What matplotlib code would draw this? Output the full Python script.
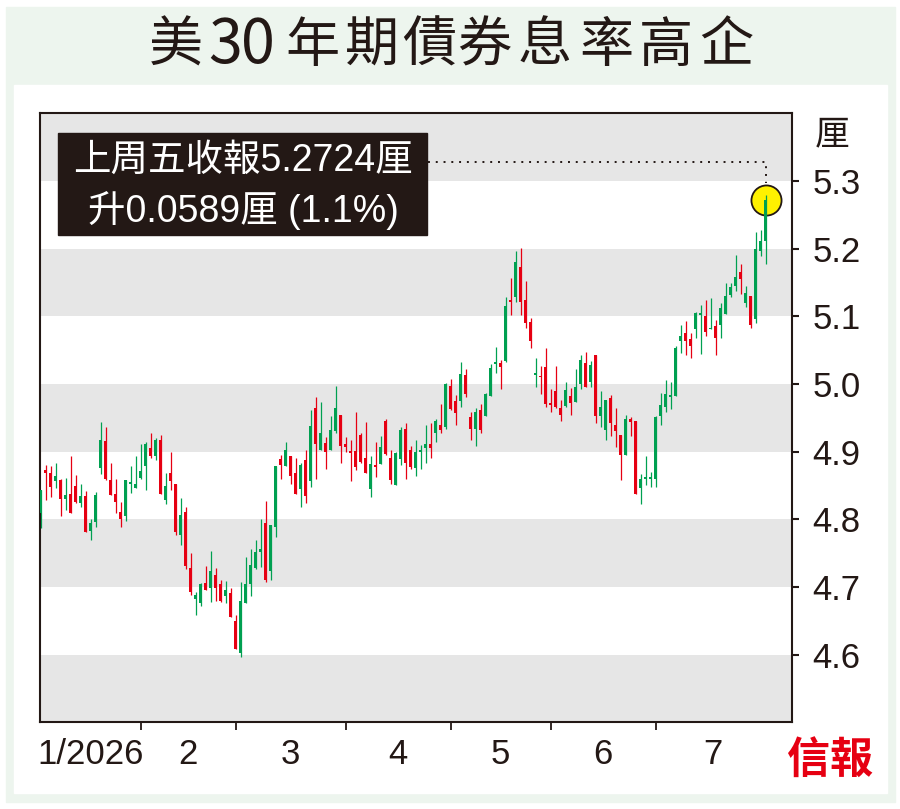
import matplotlib
matplotlib.use("Agg")
import matplotlib.pyplot as plt
from matplotlib.patches import Rectangle

plt.rcParams['font.family'] = ['Liberation Sans', 'Noto Sans CJK TC', 'DejaVu Sans']

# ---- data ----
title = "美30年期債券息率高企"
month_labels = ["1/2026", "2", "3", "4", "5", "6", "7"]
month_starts = [0, 20, 39, 61, 82, 102, 123]   # index of first trading day of each month
y_ticks = [4.6, 4.7, 4.8, 4.9, 5.0, 5.1, 5.2, 5.3]
note_lines = ["上周五收報5.2724厘", "升0.0589厘 (1.1%)"]
last_close = 5.2724

opens = [4.809, 4.873, 4.868, 4.857, 4.858, 4.830, 4.838, 4.850, 4.824, 4.834,
         4.783, 4.796, 4.876, 4.916, 4.858, 4.837, 4.811, 4.805, 4.853, 4.846,
         4.861, 4.879, 4.906, 4.893, 4.917, 4.829, 4.869, 4.852, 4.777, 4.811,
         4.728, 4.683, 4.677, 4.706, 4.699, 4.718, 4.705, 4.687, 4.691, 4.650,
         4.603, 4.677, 4.705, 4.728, 4.752, 4.795, 4.723, 4.789, 4.889, 4.879,
         4.893, 4.869, 4.845, 4.888, 4.856, 4.965, 4.902, 4.913, 4.902, 4.931,
         4.955, 4.912, 4.900, 4.901, 4.925, 4.891, 4.845, 4.880, 4.882, 4.946,
         4.890, 4.851, 4.889, 4.933, 4.903, 4.876, 4.900, 4.905, 4.911, 4.928,
         4.940, 4.937, 4.997, 4.975, 4.975, 5.013, 4.952, 4.933, 4.962, 4.953,
         4.983, 5.030, 5.031, 5.034, 5.124, 5.129, 5.173, 5.124, 5.092, 5.013,
         5.012, 5.025, 4.972, 4.990, 4.964, 4.967, 4.982, 4.974, 5.000, 5.031,
         5.003, 5.043, 4.953, 4.932, 4.980, 4.939, 4.925, 4.895, 4.949, 4.945,
         4.846, 4.859, 4.859, 4.859, 4.953, 4.966, 4.981, 4.982, 5.063, 5.076,
         5.067, 5.081, 5.102, 5.101, 5.081, 5.086, 5.087, 5.104, 5.132, 5.145,
         5.166, 5.120, 5.130, 5.096, 5.197, 5.212]
highs = [4.843, 4.880, 4.879, 4.884, 4.859, 4.861, 4.894, 4.865, 4.853, 4.842,
         4.801, 4.841, 4.944, 4.936, 4.883, 4.859, 4.826, 4.858, 4.879, 4.894,
         4.911, 4.915, 4.927, 4.921, 4.925, 4.869, 4.899, 4.852, 4.831, 4.818,
         4.751, 4.692, 4.706, 4.731, 4.753, 4.728, 4.710, 4.709, 4.698, 4.659,
         4.708, 4.745, 4.756, 4.769, 4.800, 4.827, 4.791, 4.879, 4.895, 4.915,
         4.894, 4.890, 4.884, 4.903, 4.961, 4.981, 4.973, 4.922, 4.953, 4.997,
         4.955, 4.922, 4.917, 4.959, 4.927, 4.944, 4.894, 4.914, 4.923, 4.949,
         4.902, 4.899, 4.937, 4.943, 4.908, 4.917, 4.910, 4.939, 4.942, 4.949,
         4.971, 5.001, 5.008, 4.984, 5.033, 5.022, 4.958, 4.964, 4.970, 4.987,
         5.030, 5.055, 5.035, 5.129, 5.157, 5.196, 5.201, 5.152, 5.097, 5.038,
         5.026, 5.053, 4.992, 5.026, 4.976, 5.003, 4.994, 5.022, 5.043, 5.047,
         5.034, 5.043, 4.990, 4.977, 4.984, 4.964, 4.925, 4.954, 4.952, 4.945,
         4.867, 4.893, 4.870, 4.953, 4.987, 5.006, 5.003, 5.056, 5.087, 5.093,
         5.075, 5.107, 5.117, 5.124, 5.127, 5.095, 5.120, 5.149, 5.149, 5.191,
         5.177, 5.145, 5.130, 5.225, 5.228, 5.280]
lows = [4.787, 4.829, 4.833, 4.847, 4.805, 4.814, 4.809, 4.824, 4.819, 4.782,
        4.769, 4.788, 4.867, 4.858, 4.836, 4.809, 4.789, 4.797, 4.839, 4.846,
        4.859, 4.843, 4.891, 4.888, 4.838, 4.822, 4.843, 4.777, 4.762, 4.726,
        4.688, 4.658, 4.672, 4.696, 4.678, 4.679, 4.678, 4.677, 4.655, 4.609,
        4.596, 4.677, 4.686, 4.727, 4.730, 4.708, 4.711, 4.774, 4.859, 4.879,
        4.853, 4.837, 4.818, 4.824, 4.848, 4.859, 4.902, 4.875, 4.902, 4.927,
        4.884, 4.900, 4.857, 4.873, 4.883, 4.868, 4.833, 4.863, 4.882, 4.895,
        4.852, 4.851, 4.880, 4.859, 4.874, 4.864, 4.874, 4.884, 4.890, 4.914,
        4.928, 4.933, 4.962, 4.939, 4.966, 4.981, 4.917, 4.909, 4.927, 4.953,
        4.983, 5.016, 4.993, 5.033, 5.102, 5.121, 5.102, 5.083, 5.053, 4.996,
        4.985, 4.966, 4.959, 4.965, 4.945, 4.966, 4.955, 4.974, 4.992, 4.995,
        4.995, 4.942, 4.937, 4.918, 4.923, 4.907, 4.858, 4.895, 4.923, 4.837,
        4.822, 4.851, 4.848, 4.848, 4.939, 4.958, 4.963, 4.982, 5.046, 5.043,
        5.038, 5.068, 5.045, 5.071, 5.081, 5.043, 5.068, 5.104, 5.128, 5.138,
        5.133, 5.114, 5.083, 5.090, 5.189, 5.178]
closes = [4.843, 4.868, 4.848, 4.864, 4.830, 4.836, 4.810, 4.826, 4.834, 4.782,
          4.795, 4.836, 4.918, 4.860, 4.836, 4.825, 4.800, 4.858, 4.854, 4.853,
          4.872, 4.911, 4.893, 4.917, 4.838, 4.850, 4.857, 4.782, 4.806, 4.731,
          4.692, 4.688, 4.704, 4.696, 4.723, 4.699, 4.679, 4.695, 4.655, 4.609,
          4.679, 4.704, 4.733, 4.752, 4.756, 4.710, 4.791, 4.879, 4.880, 4.902,
          4.864, 4.838, 4.880, 4.835, 4.938, 4.912, 4.927, 4.899, 4.932, 4.965,
          4.909, 4.907, 4.898, 4.877, 4.885, 4.869, 4.882, 4.878, 4.907, 4.897,
          4.858, 4.898, 4.932, 4.883, 4.878, 4.899, 4.902, 4.911, 4.905, 4.945,
          4.932, 5.000, 4.963, 4.957, 5.015, 4.985, 4.933, 4.959, 4.932, 4.985,
          5.024, 5.033, 5.025, 5.115, 5.121, 5.181, 5.121, 5.091, 5.063, 5.017,
          5.010, 4.970, 4.969, 4.966, 4.954, 4.991, 4.972, 4.996, 5.035, 4.996,
          5.028, 4.953, 4.966, 4.977, 4.942, 4.930, 4.895, 4.948, 4.944, 4.837,
          4.859, 4.863, 4.863, 4.951, 4.969, 4.985, 4.983, 5.054, 5.071, 5.064,
          5.057, 5.105, 5.104, 5.077, 5.083, 5.068, 5.112, 5.130, 5.144, 5.158,
          5.156, 5.135, 5.087, 5.200, 5.212, 5.2724]

# ---- styling ----
DARK = '#231815'
UP = '#00a051'
DOWN = '#e60012'
BAND = '#e6e6e6'
W, H = 900, 809

def fx(px):
    return px / W

def fy(py):
    return 1 - py / H

fig = plt.figure(figsize=(9, 8.09), dpi=100)
fig.patch.set_facecolor('white')

# light green frame and white inner panel (behind the axes)
fig.patches.append(Rectangle((fx(6), fy(802)), 889 / W, 795 / H,
                             transform=fig.transFigure, color='#edf5ee', zorder=-2))
fig.patches.append(Rectangle((fx(14), fy(793)), 873 / W, 708 / H,
                             transform=fig.transFigure, color='white', zorder=-1))

# title, placed char by char to get the wide spacing
title_x = [176, 225.5, 257.5, 312, 372, 429, 484, 545, 606, 666, 726]
for ch, px in zip(title, title_x):
    size = 44 if ch.isdigit() else 39
    fig.text(fx(px), fy(46), ch, ha='center', va='center', fontsize=size,
             color=DARK, family='Noto Sans CJK TC')

ax = fig.add_axes([fx(39.5), fy(722.3), (791.7 - 39.5) / W, (722.3 - 113.5) / H])
ax.set_zorder(1)
ax.set_xlim(-0.2, 150.2)
ax.set_ylim(4.5, 5.4)

# alternating grey bands
for lo in [4.5, 4.7, 4.9, 5.1, 5.3]:
    ax.axhspan(lo, lo + 0.1, color=BAND, lw=0, zorder=0)

# candles
xs = list(range(len(closes)))
cols = [UP if c >= o else DOWN for o, c in zip(opens, closes)]
bottoms = [min(o, c) for o, c in zip(opens, closes)]
heights = [max(abs(c - o), 0.0025) for o, c in zip(opens, closes)]

# highlight circle on the last close
ax.scatter([xs[-1]], [last_close], s=470, facecolor='#fff100', edgecolor=DARK,
           linewidth=1.3, zorder=1.5)

ax.vlines(xs, lows, highs, colors=cols, linewidth=0.9, zorder=2)
ax.bar(xs, heights, bottom=bottoms, width=0.64, color=cols, linewidth=0, zorder=3)

# dotted leader from the note to the circle
ax.plot([77.5, xs[-1], xs[-1]], [5.328, 5.328, 5.297], ls=(0, (1, 3)),
        lw=1.4, color=DARK, zorder=4)

# note box
ax.add_patch(Rectangle((0.025, 0.8004), 0.4906, 0.1671, transform=ax.transAxes,
                       color=DARK, zorder=5))
ax.text(0.2705, 0.922, note_lines[0], transform=ax.transAxes, ha='center',
        va='center', fontsize=27, color='white', zorder=6)
ax.text(0.2705, 0.841, note_lines[1], transform=ax.transAxes, ha='center',
        va='center', fontsize=27, color='white', zorder=6)

# axes
for sp in ax.spines.values():
    sp.set_color(DARK)
    sp.set_linewidth(1.5)

ax.yaxis.tick_right()
ax.set_yticks(y_ticks)
ax.set_yticklabels([f"{v:.1f}" for v in y_ticks])
ax.tick_params(axis='y', direction='out', length=5, width=1.5, pad=10,
               labelsize=25, colors=DARK)

ends = month_starts + [len(closes)]
mids = [(a + b) / 2 for a, b in zip(ends[:-1], ends[1:])]
ax.set_xticks(month_starts[1:])
ax.set_xticklabels([])
ax.set_xticks(mids, minor=True)
ax.set_xticklabels(month_labels, minor=True)
ax.tick_params(axis='x', which='major', direction='out', length=6, width=1.3,
               colors=DARK)
ax.tick_params(axis='x', which='minor', length=0, pad=11, labelsize=25,
               colors=DARK)

# unit label and logo
fig.text(fx(832), fy(135), "厘", ha='center', va='center', fontsize=25,
         color=DARK, family='Noto Sans CJK TC')
fig.text(fx(830), fy(761), "信報", ha='center', va='center', fontsize=31,
         color=DOWN, weight='bold', family='Noto Sans CJK TC')

fig.savefig("out.png", dpi=100)
